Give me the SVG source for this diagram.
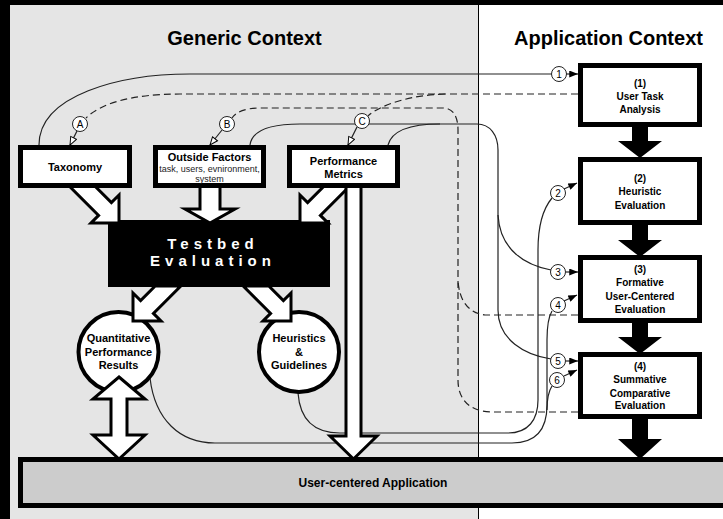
<svg xmlns="http://www.w3.org/2000/svg" width="723" height="519" viewBox="0 0 723 519">
<style>
text{font-family:"Liberation Sans",Arial,sans-serif;fill:#000}
.title{font-size:20px;font-weight:bold;text-anchor:middle}
.bx{font-size:11px;font-weight:bold;text-anchor:middle}
.ap{font-size:10px;font-weight:bold;text-anchor:middle}
.sm{font-size:9px;text-anchor:middle;fill:#222}
.lb{font-size:10px;text-anchor:middle}
.tb{font-size:15px;font-weight:bold;fill:#fff;letter-spacing:5px;text-anchor:middle}
.box{fill:#fff;stroke:#000;stroke-width:5}
.circ{fill:#fff;stroke:#000;stroke-width:4}
.ba{fill:#fff;stroke:#000;stroke-width:3;stroke-linejoin:miter}
.bk{fill:#000}
.ln{fill:none;stroke:#222;stroke-width:1.2}
.ds{fill:none;stroke:#222;stroke-width:1.2;stroke-dasharray:7,4}
.lc{fill:#fff;stroke:#222;stroke-width:1}
</style>
<defs>
<marker id="fa" viewBox="0 0 10 8" refX="10" refY="4" markerWidth="10" markerHeight="7" markerUnits="userSpaceOnUse" orient="auto"><path d="M0,0L10,4L0,8z" fill="#000"/></marker>
<marker id="oa" viewBox="0 0 12 10" refX="11" refY="5" markerWidth="10" markerHeight="8" markerUnits="userSpaceOnUse" orient="auto"><path d="M1,1L11,5L1,9z" fill="#fff" stroke="#000" stroke-width="1.2"/></marker>
</defs>
<rect x="0" y="0" width="723" height="519" fill="#000"/>
<rect x="10" y="5" width="468" height="514" fill="#e5e5e5"/>
<rect x="478" y="5" width="245" height="514" fill="#fff"/>
<line x1="478.5" y1="5" x2="478.5" y2="519" stroke="#000" stroke-width="1"/>
<text class="title" x="244.5" y="45">Generic Context</text>
<text class="title" x="608.5" y="45">Application Context</text>

<g id="connectors">
<path class="ln" d="M39,145 C39,95 120,74 190,74 L552,74"/>
<path class="ds" d="M578,94 L180,94 C130,94 100,104 86,118"/>
<path class="ds" d="M445,94 C410,95 380,105 368,116"/>
<path class="ds" d="M578,412 L493,412 C470,412 458,400 458,380 L458,130 C458,115 452,108 443,108 L260,108 C245,108 236,112 232,118"/>
<path class="ds" d="M578,315 L485,315 C468,313 459,300 458,280"/>
<path class="ln" d="M250,145 C252,130 270,124 300,124 L477,124 C490,124 498,135 498,150 L498,310 C498,340 525,355 551,359"/>
<path class="ln" d="M498,215 C500,250 525,265 551,270"/>
<path class="ln" d="M388,145 C392,130 410,124 440,124"/>
<path class="ln" d="M298,393 C300,420 315,433 340,433 L508,433 C528,433 538,420 538,400 L538,250 C538,230 542,210 552,198"/>
<path class="ln" d="M150,378 C155,420 180,443 215,443 L512,443 C535,443 547,430 547,405 L547,340 C547,325 549,316 552,311"/>
<path class="ln" d="M552,386 C548,392 547,398 547,410"/>
<path class="ln" d="M566,74 L578,74" marker-end="url(#fa)"/>
<path class="ln" d="M564,189 L577,183" marker-end="url(#fa)"/>
<path class="ln" d="M566,272 L578,272" marker-end="url(#fa)"/>
<path class="ln" d="M564,301 L577,295" marker-end="url(#fa)"/>
<path class="ln" d="M566,361 L578,361" marker-end="url(#fa)"/>
<path class="ln" d="M564,376 L577,370" marker-end="url(#fa)"/>
<path class="ln" d="M77,131 L70,145" marker-end="url(#oa)"/>
<path class="ln" d="M222,130 L210,145" marker-end="url(#oa)"/>
<path class="ln" d="M357,127 L348,145" marker-end="url(#oa)"/>
<circle class="lc" cx="559" cy="74" r="7.5"/><text class="lb" x="559" y="77.5">1</text>
<circle class="lc" cx="80" cy="124" r="7.5"/><text class="lb" x="80" y="127.5">A</text>
<circle class="lc" cx="227" cy="124" r="7.5"/><text class="lb" x="227" y="127.5">B</text>
<circle class="lc" cx="362" cy="121" r="7.5"/><text class="lb" x="362" y="124.5">C</text>
<circle class="lc" cx="558" cy="193" r="7.5"/><text class="lb" x="558" y="196.5">2</text>
<circle class="lc" cx="558" cy="272" r="7.5"/><text class="lb" x="558" y="275.5">3</text>
<circle class="lc" cx="558" cy="305" r="7.5"/><text class="lb" x="558" y="308.5">4</text>
<circle class="lc" cx="558" cy="361" r="7.5"/><text class="lb" x="558" y="364.5">5</text>
<circle class="lc" cx="557" cy="380" r="7.5"/><text class="lb" x="557" y="383.5">6</text>
</g>

<g id="testbed">
<rect x="108" y="220" width="222" height="67" fill="#000"/>
<text class="tb" x="213" y="248.5">Testbed</text>
<text class="tb" x="213" y="265.5">Evaluation</text>
</g>

<g id="quantitative">
<circle class="circ" cx="118.5" cy="352" r="40"/>
<text class="bx" x="118.5" y="342">Quantitative</text>
<text class="bx" x="118.5" y="356">Performance</text>
<text class="bx" x="118.5" y="369">Results</text>
</g>
<g id="heuristics">
<circle class="circ" cx="299" cy="352" r="40"/>
<text class="bx" x="299" y="342">Heuristics</text>
<text class="bx" x="299" y="356">&amp;</text>
<text class="bx" x="299" y="369">Guidelines</text>
</g>

<g id="block-arrows">
<polygon class="ba" points="65.2,182 90.8,182 111.4,202.6 119,195 119,223 91,223 98.6,215.4"/>
<polygon class="ba" points="200,182 220,182 220,209 235,209 210,223 185,209 200,209"/>
<polygon class="ba" points="353.8,182 328.2,182 307.6,202.6 300,195 300,223 328,223 320.4,215.4"/>
<polygon class="ba" points="346,182 361,182 361,436 377,436 353.5,459 330,436 346,436"/>
<polygon class="ba" points="155.2,286 180.8,286 153.4,313.4 161,321 133,321 133,293 140.6,300.6"/>
<polygon class="ba" points="268.8,286 243.2,286 270.6,313.4 263,321 291,321 291,293 283.4,300.6"/>
<polygon class="ba" points="119,377 145,399 127,399 127,435 145,435 119,459 93,435 111,435 111,399 93,399"/>
<polygon class="bk" points="632,125 648,125 648,141 662,141 640,158 618,141 632,141"/>
<polygon class="bk" points="632,223 648,223 648,240 662,240 640,257 618,240 632,240"/>
<polygon class="bk" points="632,321 648,321 648,337 662,337 640,354 618,337 632,337"/>
<polygon class="bk" points="632,417 648,417 648,439 662,439 640,459 618,439 632,439"/>
</g>

<g id="taxonomy">
<rect class="box" x="20.5" y="147.5" width="109" height="38"/>
<text class="bx" x="75" y="171">Taxonomy</text>
</g>
<g id="outside-factors">
<rect class="box" x="155.5" y="147.5" width="108" height="38"/>
<text class="bx" x="209.5" y="161">Outside Factors</text>
<text class="sm" x="209.5" y="172">task, users, evnironment,</text>
<text class="sm" x="209.5" y="182">system</text>
</g>
<g id="performance-metrics">
<rect class="box" x="289.5" y="147.5" width="108" height="38"/>
<text class="bx" x="343.5" y="165">Performance</text>
<text class="bx" x="343.5" y="178">Metrics</text>
</g>

<g id="application-bar">
<rect x="20.5" y="459.5" width="710" height="46" fill="#cccccc" stroke="#000" stroke-width="5"/>
<text x="373" y="487" style="font-size:12px;font-weight:bold;text-anchor:middle">User-centered Application</text>
</g>

<g id="step1">
<rect class="box" x="580.5" y="65.5" width="119" height="59"/>
<text class="ap" x="640" y="86.5">(1)</text>
<text class="ap" x="640" y="99.5">User Task</text>
<text class="ap" x="640" y="112.5">Analysis</text>
</g>
<g id="step2">
<rect class="box" x="580.5" y="159.5" width="119" height="63"/>
<text class="ap" x="640" y="181.5">(2)</text>
<text class="ap" x="640" y="195">Heuristic</text>
<text class="ap" x="640" y="208.5">Evaluation</text>
</g>
<g id="step3">
<rect class="box" x="580.5" y="257.5" width="119" height="63"/>
<text class="ap" x="640" y="272.5">(3)</text>
<text class="ap" x="640" y="285.5">Formative</text>
<text class="ap" x="640" y="299.5">User-Centered</text>
<text class="ap" x="640" y="312.5">Evaluation</text>
</g>
<g id="step4">
<rect class="box" x="580.5" y="354.5" width="119" height="62"/>
<text class="ap" x="640" y="369.5">(4)</text>
<text class="ap" x="640" y="383">Summative</text>
<text class="ap" x="640" y="396.5">Comparative</text>
<text class="ap" x="640" y="409">Evaluation</text>
</g>
</svg>
